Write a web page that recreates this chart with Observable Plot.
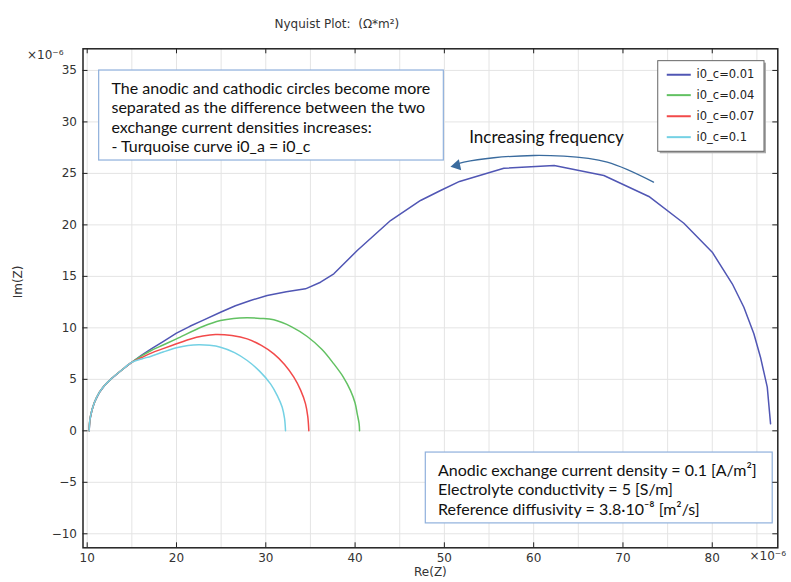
<!DOCTYPE html>
<html><head><meta charset="utf-8">
<script src="https://cdn.jsdelivr.net/npm/d3@7"></script>
<script src="https://cdn.jsdelivr.net/npm/@observablehq/plot@0.6"></script>
<style>body{margin:0;background:#fff} svg{display:block}</style>
</head><body><div id="chart"></div>
<script>
// ---- data ----
const seriesNames = ["i0_c=0.01", "i0_c=0.04", "i0_c=0.07", "i0_c=0.1"];
const seriesColors = ["#5056b4", "#62c162", "#f24a4a", "#74d1e4"];

// shared high-frequency start (all curves coincide)
const commonRe = [10.22, 10.29, 10.52, 10.82, 11.38, 11.94, 12.69, 13.81, 15.0];
const commonIm = [0, 1.0, 1.97, 2.78, 3.75, 4.4, 5.05, 5.86, 6.66];

const re001 = [16.1, 17.17, 18.5, 20, 21.5, 22.95, 24.93, 26.6, 28.29, 30.16, 32.3, 34.45, 36.13, 37.62, 40.24, 43.97, 47.33, 49.57, 51.7, 56.66, 62.3, 67.86, 72.9, 76.82, 80.0, 82.24, 83.54, 84.66, 85.4, 86.16, 86.53];
const im001 = [7.35, 7.96, 8.67, 9.48, 10.15, 10.72, 11.52, 12.15, 12.66, 13.14, 13.5, 13.79, 14.43, 15.25, 17.51, 20.42, 22.37, 23.34, 24.22, 25.5, 25.77, 24.8, 22.76, 20.16, 17.35, 14.28, 12.0, 9.42, 7.15, 4.24, 0.68];

const re004 = [16.1, 17.17, 18.5, 20, 22.95, 24.93, 26.4, 27.92, 29.4, 30.9, 32.9, 34.64, 36.3, 37.62, 38.7, 39.49, 40.0, 40.24, 40.45, 40.5];
const im004 = [7.27, 7.8, 8.33, 8.93, 10.13, 10.71, 10.92, 10.97, 10.92, 10.78, 10.1, 9.16, 7.9, 6.5, 5.2, 3.9, 2.7, 1.65, 0.7, 0];

const re007 = [16.1, 17.17, 18.5, 20, 21.5, 22.95, 24.37, 26.2, 27.92, 29.5, 30.9, 32.1, 33.14, 33.9, 34.45, 34.7, 34.82];
const im007 = [7.12, 7.55, 7.98, 8.45, 8.9, 9.2, 9.35, 9.25, 8.93, 8.3, 7.48, 6.45, 5.21, 3.95, 2.62, 1.4, 0];

const re01 = [16.1, 17.17, 18.5, 20, 21.3, 22.5, 23.7, 24.93, 26.5, 27.92, 29.3, 30.53, 31.3, 31.84, 32.1, 32.21];
const im01 = [6.98, 7.25, 7.65, 8.06, 8.28, 8.35, 8.3, 8.12, 7.6, 6.83, 5.8, 4.56, 3.4, 2.29, 1.2, 0];

// tick values
const xTicks = [10, 20, 30, 40, 50, 60, 70, 80];
const yTicks = [-10, -5, 0, 5, 10, 15, 20, 25, 30, 35];
const xGrid = d3.range(10, 86, 5);
const yGrid = d3.range(-10, 36, 5);

// annotations (data units)
const noteTop = "The anodic and cathodic circles become more\nseparated as the difference between the two\nexchange current densities increases:\n- Turquoise curve i0_a = i0_c";
const noteBottom = "Anodic exchange current density = 0.1 [A/m²]\nElectrolyte conductivity = 5 [S/m]\nReference diffusivity = 3.8·10⁻⁸ [m²/s]";
const arrowRe = [73.42, 68.24, 63.38, 60.02, 55.54, 52.18, 51.06];
const arrowIm = [24.15, 26.09, 26.67, 26.74, 26.52, 26.09, 25.77];

// ---- build ----
const xDomain = [9.53, 87.34], yDomain = [-11.36, 37.1];
const W = 791, H = 582, mL = 82.5, mR = 13.7, mT = 48.3, mB = 34.7;
const kx = (xDomain[1] - xDomain[0]) / (W - mL - mR);
const ky = (yDomain[1] - yDomain[0]) / (H - mT - mB);

function rows(name, re, im) { return re.map((r, i) => ({s: name, re: r, im: im[i]})); }
const blueRows = rows(seriesNames[0], commonRe.concat(re001), commonIm.concat(im001));
const otherRows = [
  ...rows(seriesNames[1], commonRe.concat(re004), commonIm.concat(im004)),
  ...rows(seriesNames[2], commonRe.concat(re007), commonIm.concat(im007)),
  ...rows(seriesNames[3], commonRe.concat(re01), commonIm.concat(im01))
];
const arrowPts = arrowRe.map((r, i) => ({re: r, im: arrowIm[i]}));

// legend layout in data units
const leg = {x1: 73.95, x2: 85.85, y1: 35.9, y2: 27.1, lx1: 74.96, lx2: 77.65, tx: 78.24, ys: [34.58, 32.6, 30.55, 28.52]};
const legRows = seriesNames.map((s, i) => ({s, y: leg.ys[i]}));

const chart = Plot.plot({
  width: W, height: H,
  marginLeft: mL, marginRight: mR, marginTop: mT, marginBottom: mB,
  x: {domain: xDomain, axis: null},
  y: {domain: yDomain, axis: null},
  color: {domain: seriesNames, range: seriesColors},
  style: {fontFamily: "DejaVu Sans", fontSize: "12px", background: "white", color: "#333"},
  marks: [
    Plot.gridX(xGrid, {stroke: "#e4e4e4", strokeOpacity: 1}),
    Plot.gridY(yGrid, {stroke: "#e4e4e4", strokeOpacity: 1}),
    Plot.line(blueRows, {x: "re", y: "im", z: "s", stroke: "s", strokeWidth: 1.5, curve: "linear"}),
    Plot.line(otherRows, {x: "re", y: "im", z: "s", stroke: "s", strokeWidth: 1.5, curve: "catmull-rom"}),
    // top annotation box
    Plot.rect([0], {x1: 11.34, x2: 49.94, y1: 34.99, y2: 26.25, fill: "white", stroke: "#8fb0dc", strokeWidth: 1.2}),
    Plot.text([noteTop], {x: 12.72, y: 30.48, text: d => d, textAnchor: "start", lineAnchor: "middle", lineHeight: 1.22, fontFamily: "Lato", fontSize: 16, fill: "#111"}),
    // bottom annotation box
    Plot.rect([0], {x1: 47.92, x2: 86.77, y1: -2.11, y2: -8.99, fill: "white", stroke: "#8fb0dc", strokeWidth: 1.2}),
    Plot.text([noteBottom], {x: 49.29, y: -5.67, text: d => d, textAnchor: "start", lineAnchor: "middle", lineHeight: 1.2, fontFamily: "Lato", fontSize: 16, fill: "#111"}),
    // increasing frequency arrow
    Plot.text(["Increasing frequency"], {x: 61.44, y: 28.49, text: d => d, fontFamily: "Lato", fontSize: 17, fill: "#111"}),
    Plot.line(arrowPts, {x: "re", y: "im", curve: "natural", stroke: "#3a6b9e", strokeWidth: 1.3}),
    Plot.dot([arrowPts[arrowPts.length - 1]], {x: "re", y: "im", symbol: "triangle", r: 4.2, fill: "#3a6b9e", rotate: 258, dx: 3}),
    // legend
    Plot.rect([0], {x1: leg.x1, x2: leg.x2, y1: leg.y1, y2: leg.y2, fill: "#aaa", dx: 2, dy: 2}),
    Plot.rect([0], {x1: leg.x1, x2: leg.x2, y1: leg.y1, y2: leg.y2, fill: "white", stroke: "#666", strokeWidth: 1}),
    Plot.ruleY(legRows, {y: "y", x1: leg.lx1, x2: leg.lx2, stroke: "s", strokeWidth: 2}),
    Plot.text(legRows, {y: "y", x: leg.tx, text: "s", textAnchor: "start", fontSize: 11.5, fill: "#222"}),
    // frame and inward ticks
    Plot.ruleX(xTicks, {x: d => d, y1: yDomain[0], y2: yDomain[0] + 5 * ky, stroke: "#222"}),
    Plot.ruleX(xTicks, {x: d => d, y1: yDomain[1], y2: yDomain[1] - 5 * ky, stroke: "#222"}),
    Plot.ruleY(yTicks, {y: d => d, x1: xDomain[0], x2: xDomain[0] + 5 * kx, stroke: "#222"}),
    Plot.ruleY(yTicks, {y: d => d, x1: xDomain[1], x2: xDomain[1] - 5 * kx, stroke: "#222"}),
    Plot.frame({stroke: "#222", strokeWidth: 1.5}),
    Plot.axisX(xTicks, {anchor: "bottom", tickSize: 0, tickPadding: 6, label: null, fill: "#333"}),
    Plot.axisY(yTicks, {anchor: "left", tickSize: 0, tickPadding: 6, label: null, fill: "#333"}),
    Plot.text(["×10⁻⁶"], {frameAnchor: "top-left", text: d => d, textAnchor: "end", dx: -19.5, dy: 2, fill: "#333"}),
    Plot.text(["×10⁻⁶"], {frameAnchor: "bottom-right", text: d => d, textAnchor: "start", dx: -28.3, dy: 12.5, fill: "#333"}),
    Plot.text(["Re(Z)"], {frameAnchor: "bottom", text: d => d, dy: 28, fill: "#333"}),
    Plot.text(["Im(Z)"], {frameAnchor: "left", text: d => d, rotate: -90, dx: -64.5, fill: "#333"}),
    Plot.text(["Nyquist Plot:  (Ω*m²)"], {frameAnchor: "top-left", text: d => d, textAnchor: "start", dx: 191.5, dy: -29.3, fill: "#333"})
  ]
});
document.getElementById("chart").appendChild(chart);
</script></body></html>
